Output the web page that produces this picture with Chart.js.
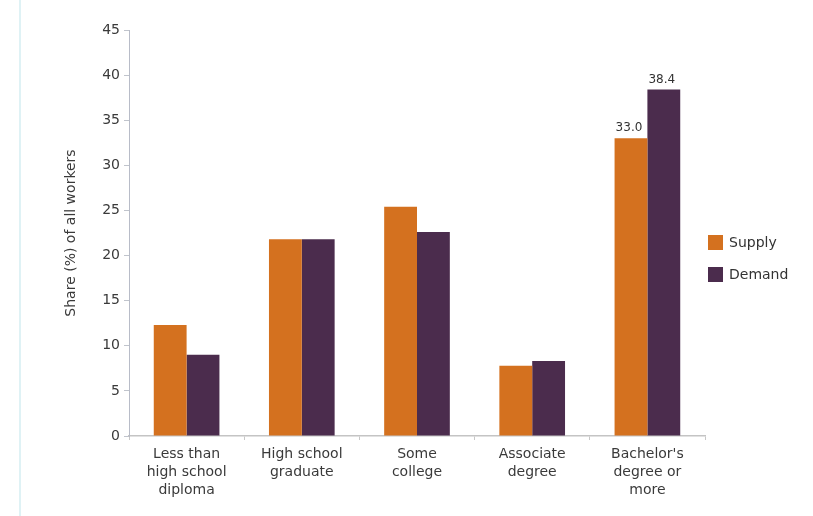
<!DOCTYPE html>
<html>
<head>
<meta charset="utf-8">
<script src="https://cdn.jsdelivr.net/npm/chart.js@4.4.1/dist/chart.umd.min.js"></script>
<style>
  html, body { margin: 0; padding: 0; background: #ffffff; }
  #wrap { position: relative; width: 813px; height: 516px; overflow: hidden; background: #fff; }
  #edge { position: absolute; left: 19px; top: 0; width: 2px; height: 516px; background: #dff2f5; }
  #chartBox { position: absolute; left: 0; top: 0; width: 813px; height: 516px; }
  #legend { position: absolute; left: 708px; top: 234px; font-family: "DejaVu Sans", sans-serif; font-size: 14px; color: #333; }
  .li { display: flex; align-items: center; height: 16px; margin-bottom: 16px; }
  .sw { width: 15px; height: 15px; margin-right: 6px; }
</style>
</head>
<body>
<div id="wrap">
  <div id="edge"></div>
  <div id="chartBox"><canvas id="c"></canvas></div>
  <div id="legend"></div>
</div>
<script>
const categories = [
  ["Less than", "high school", "diploma"],
  ["High school", "graduate"],
  ["Some", "college"],
  ["Associate", "degree"],
  ["Bachelor's", "degree or", "more"]
];
const supplyValues = [12.3, 21.8, 25.4, 7.8, 33.0];
const demandValues = [9.0, 21.8, 22.6, 8.3, 38.4];
const seriesNames = ["Supply", "Demand"];
const seriesColors = ["#D4711F", "#4B2C4D"];
const yTickMin = 0, yTickMax = 45, yTickStep = 5;
const yTitle = "Share (%) of all workers";
const labeledCategory = 4;

const FONT = "'DejaVu Sans', sans-serif";

const valueLabels = {
  id: 'valueLabels',
  afterDatasetsDraw(chart) {
    const ctx = chart.ctx;
    ctx.save();
    ctx.font = "12px " + FONT;
    ctx.fillStyle = "#333";
    ctx.textAlign = "center";
    ctx.textBaseline = "bottom";
    chart.data.datasets.forEach((ds, i) => {
      const bar = chart.getDatasetMeta(i).data[labeledCategory];
      if (!bar) return;
      ctx.fillText(ds.data[labeledCategory].toFixed(1), bar.x - 2, bar.y - 4);
    });
    ctx.restore();
  }
};

const chart = new Chart(document.getElementById('c'), {
  type: 'bar',
  data: {
    labels: categories,
    datasets: [
      { label: seriesNames[0], data: supplyValues, backgroundColor: seriesColors[0] },
      { label: seriesNames[1], data: demandValues, backgroundColor: seriesColors[1] }
    ]
  },
  options: {
    responsive: true,
    maintainAspectRatio: false,
    animation: false,
    devicePixelRatio: 1,
    categoryPercentage: 0.57,
    barPercentage: 1.0,
    layout: { padding: { left: 59, right: 108, top: 30, bottom: 0 } },
    plugins: { legend: { display: false }, tooltip: { enabled: false } },
    scales: {
      x: {
        grid: { offset: true, drawOnChartArea: false, drawTicks: true, tickLength: 4, color: "#c8c8c8" },
        border: { color: "#c4c4c4", width: 1.5 },
        ticks: { color: "#3a3a3a", font: { family: FONT, size: 14, lineHeight: 1.29 }, padding: 5, maxRotation: 0, autoSkip: false },
        afterFit(scale) { scale.height = 80; }
      },
      y: {
        min: yTickMin, max: yTickMax,
        grid: { drawOnChartArea: false, drawTicks: true, tickLength: 5, color: "#c0c4cc" },
        border: { color: "#b8bcc8", width: 1 },
        ticks: { stepSize: yTickStep, color: "#3a3a3a", font: { family: FONT, size: 14 }, padding: 4 },
        title: { display: true, text: yTitle, color: "#3a3a3a", font: { family: FONT, size: 14 }, padding: { top: 4, bottom: 0 } },
        afterFit(scale) { scale.width = 70; }
      }
    }
  },
  plugins: [valueLabels]
});

const legend = document.getElementById('legend');
chart.data.datasets.forEach(ds => {
  const row = document.createElement('div');
  row.className = 'li';
  const sw = document.createElement('span');
  sw.className = 'sw';
  sw.style.background = ds.backgroundColor;
  const tx = document.createElement('span');
  tx.textContent = ds.label;
  row.appendChild(sw); row.appendChild(tx);
  legend.appendChild(row);
});
</script>
</body>
</html>
